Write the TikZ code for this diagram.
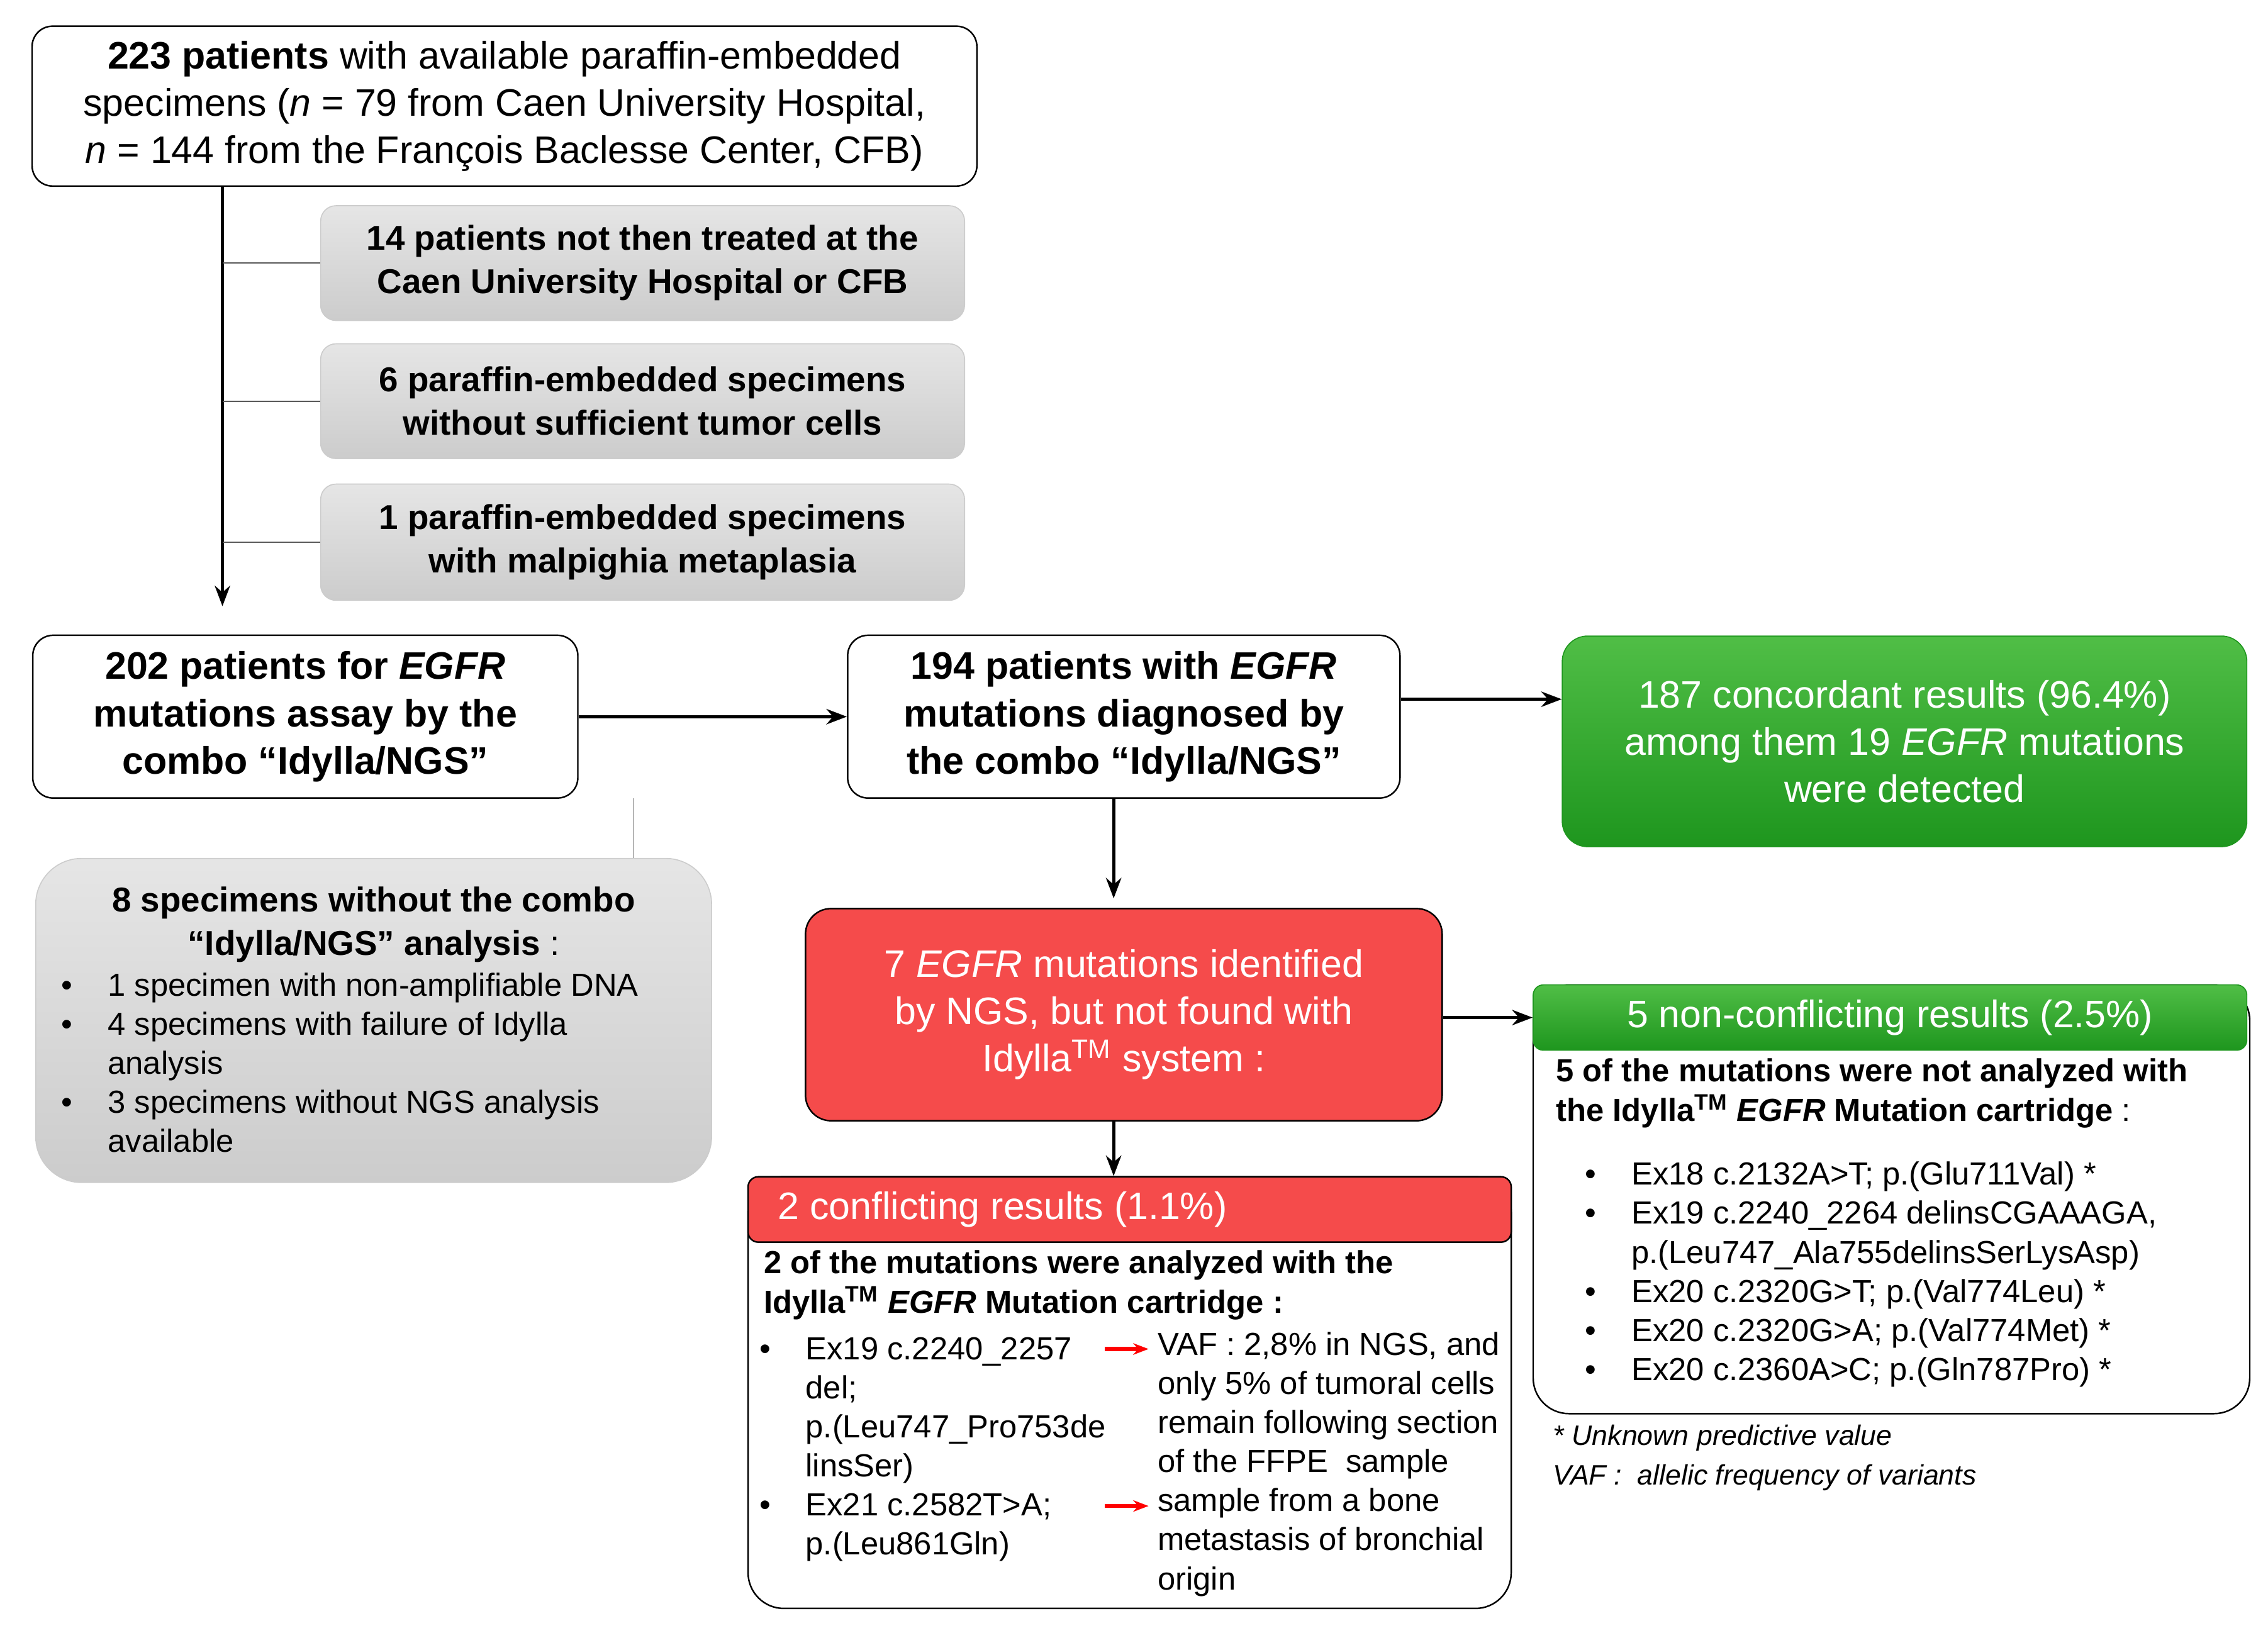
\documentclass[tikz,border=0pt]{standalone}
\usepackage{fontspec}
\setmainfont{Liberation Sans}
\usetikzlibrary{arrows.meta,shadings}
\definecolor{greentop}{RGB}{80,190,70}
\definecolor{greenbot}{RGB}{30,150,30}
\definecolor{redbox}{RGB}{245,75,75}
\newcommand{\bigtxt}{\fontsize{15}{18.5}\selectfont}
\newcommand{\midtxt}{\fontsize{13.5}{17}\selectfont}
\newcommand{\smalltxt}{\fontsize{12.5}{15.3}\selectfont}
\newcommand{\tm}{\textsuperscript{TM}}
\begin{document}
\begin{tikzpicture}[x=0.02cm,y=-0.02cm,
    whitebox/.style={draw,rounded corners=8pt,fill=white,semithick,align=center,inner sep=0pt},
    greybox/.style={draw=gray!40,rounded corners=6pt,top color=gray!20,bottom color=gray!40,align=center,inner sep=0pt},
    greenbox/.style={draw=greenbot,rounded corners=10pt,top color=greentop,bottom color=greenbot,text=white,align=center,inner sep=0pt},
    redbox/.style={draw,semithick,rounded corners=10pt,fill=redbox,text=white,align=center,inner sep=0pt},
    arr/.style={-{Stealth[length=8pt]},line width=1.3pt},
    conn/.style={thin,gray!70!black},
    redarr/.style={-{Stealth[length=6pt]},line width=1.6pt,red}]
    \useasboundingbox (0,0) rectangle (1560,1123);

    % top and exclusions
    \node[whitebox,font=\bigtxt,minimum width=13cm,minimum height=2.2cm] (all) at (347,73)
        {\textbf{223 patients} with available paraffin-embedded\\
         specimens ({\itshape n} = 79 from Caen University Hospital,\\
         {\itshape n} = 144 from the François Baclesse Center, CFB)};
    \node[greybox,font=\midtxt\bfseries,minimum width=8.86cm,minimum height=1.58cm] (ex1) at (442,181)
        {14 patients not then treated at the\\ Caen University Hospital or CFB};
    \node[greybox,font=\midtxt\bfseries,minimum width=8.86cm,minimum height=1.58cm] (ex2) at (442,276)
        {6 paraffin-embedded specimens\\ without sufficient tumor cells};
    \node[greybox,font=\midtxt\bfseries,minimum width=8.86cm,minimum height=1.6cm] (ex3) at (442,373)
        {1 paraffin-embedded specimens\\ with malpighia metaplasia};
    \coordinate (top) at (153,128);
    \coordinate (down) at (153,417);
    \draw[arr] (top) -- (down);
    \draw[conn] (ex1.west) -- (ex1.west -| top);
    \draw[conn] (ex2.west) -- (ex2.west -| top);
    \draw[conn] (ex3.west) -- (ex3.west -| top);

    % second row
    \node[whitebox,font=\bigtxt\bfseries,minimum width=7.5cm,minimum height=2.24cm] (n202) at (210,493)
        {202 patients for \textit{EGFR}\\ mutations assay by the\\ combo “Idylla/NGS”};
    \node[whitebox,font=\bigtxt\bfseries,minimum width=7.6cm,minimum height=2.24cm] (n194) at (773,493)
        {194 patients with \textit{EGFR}\\ mutations diagnosed by\\ the combo “Idylla/NGS”};
    \node[greenbox,font=\bigtxt,minimum width=9.42cm,minimum height=2.9cm] (n187) at (1310,510)
        {187 concordant results (96.4\%)\\ among them 19 \textit{EGFR} mutations\\ were detected};
    \draw[arr] (n202.east) -- (n194.west);
    \draw[arr] (n194.east |- 0,481) -- (n187.west |- 0,481);

    % failures
    \node[greybox,rounded corners=18pt,minimum width=9.3cm,minimum height=4.46cm] (n8) at (257,702) {};
    \node[anchor=north,align=center,font=\midtxt] (n8t) at (257,604)
        {\textbf{8 specimens without the combo}\\ \textbf{“Idylla/NGS” analysis} :};
    \node[anchor=north west,inner sep=0pt,font=\smalltxt] (n8l) at (42,666)
        {\begin{tabular}{@{}l@{\hspace{1.1em}}l@{}}
         • & 1 specimen with non-amplifiable DNA\\
         • & 4 specimens with failure of Idylla\\
           & analysis\\
         • & 3 specimens without NGS analysis\\
           & available
         \end{tabular}};
    \coordinate (split) at (436,549);
    \draw[conn] (split) -- (split |- n8.north);

    % discordant
    \node[redbox,font=\bigtxt,minimum width=8.76cm,minimum height=2.92cm] (n7) at (773,698)
        {7 \textit{EGFR} mutations identified\\ by NGS, but not found with\\ Idylla\tm{} system :};
    \draw[arr] (766,549) -- (766,618);

    % non-conflicting
    \node[whitebox,rounded corners=14pt,minimum width=9.86cm,minimum height=5.9cm] (b5) at (1301,825) {};
    \node[greenbox,font=\bigtxt,rounded corners=4pt,minimum width=9.82cm,minimum height=0.9cm] (h5) at (1300,700)
        {5 non-conflicting results (2.5\%)};
    \draw[arr] (n7.east |- h5) -- (h5.west);
    \node[anchor=north west,align=left,inner sep=0pt,font=\smalltxt\bfseries] (t5) at (1070,728)
        {5 of the mutations were not analyzed with\\
         the Idylla\tm{} \textit{EGFR} Mutation cartridge \mdseries :};
    \node[anchor=north west,inner sep=0pt,font=\smalltxt] (l5) at (1090,796)
        {\begin{tabular}{@{}l@{\hspace{1.1em}}l@{}}
         • & Ex18 c.2132A>T; p.(Glu711Val) *\\
         • & Ex19 c.2240\_2264 delinsCGAAAGA,\\
           & p.(Leu747\_Ala755delinsSerLysAsp)\\
         • & Ex20 c.2320G>T; p.(Val774Leu) *\\
         • & Ex20 c.2320G>A; p.(Val774Met) *\\
         • & Ex20 c.2360A>C; p.(Gln787Pro) *
         \end{tabular}};
    \node[anchor=north west,align=left,inner sep=0pt,font=\fontsize{11}{15.5}\selectfont\itshape] (foot) at (1068,980)
        {* Unknown predictive value\\ VAF :\ \ allelic frequency of variants};

    % conflicting
    \node[whitebox,rounded corners=14pt,minimum width=10.5cm,minimum height=5.94cm] (b2) at (777,958) {};
    \node[redbox,font=\bigtxt,rounded corners=4pt,minimum width=10.5cm,minimum height=0.9cm] (h2) at (777,832)
        {\hspace*{-3.5cm}2 conflicting results (1.1\%)};
    \draw[arr] (n7.south -| 766,0) -- (h2.north -| 766,0);
    \node[anchor=north west,align=left,inner sep=0pt,font=\smalltxt\bfseries] (t2) at (525,860)
        {2 of the mutations were analyzed with the\\
         Idylla\tm{} \textit{EGFR} Mutation cartridge :};
    \node[anchor=north west,inner sep=0pt,font=\smalltxt] (l2) at (522,916)
        {\begin{tabular}{@{}l@{\hspace{1.1em}}l@{}}
         • & Ex19 c.2240\_2257\\
           & del;\\
           & p.(Leu747\_Pro753de\\
           & linsSer)\\
         • & Ex21 c.2582T>A;\\
           & p.(Leu861Gln)
         \end{tabular}};
    \node[anchor=north west,align=left,inner sep=0pt,font=\smalltxt] (v2) at (796,916)
        {VAF : 2,8\% in NGS, and\\ only 5\% of tumoral cells\\ remain following section\\
         of the FFPE\ \ sample\\ sample from a bone\\ metastasis of bronchial\\ origin};
    \coordinate (ra1) at (760,928);
    \coordinate (ra2) at (760,1036);
    \draw[redarr] (ra1) -- +(30,0);
    \draw[redarr] (ra2) -- +(30,0);
\end{tikzpicture}
\end{document}
